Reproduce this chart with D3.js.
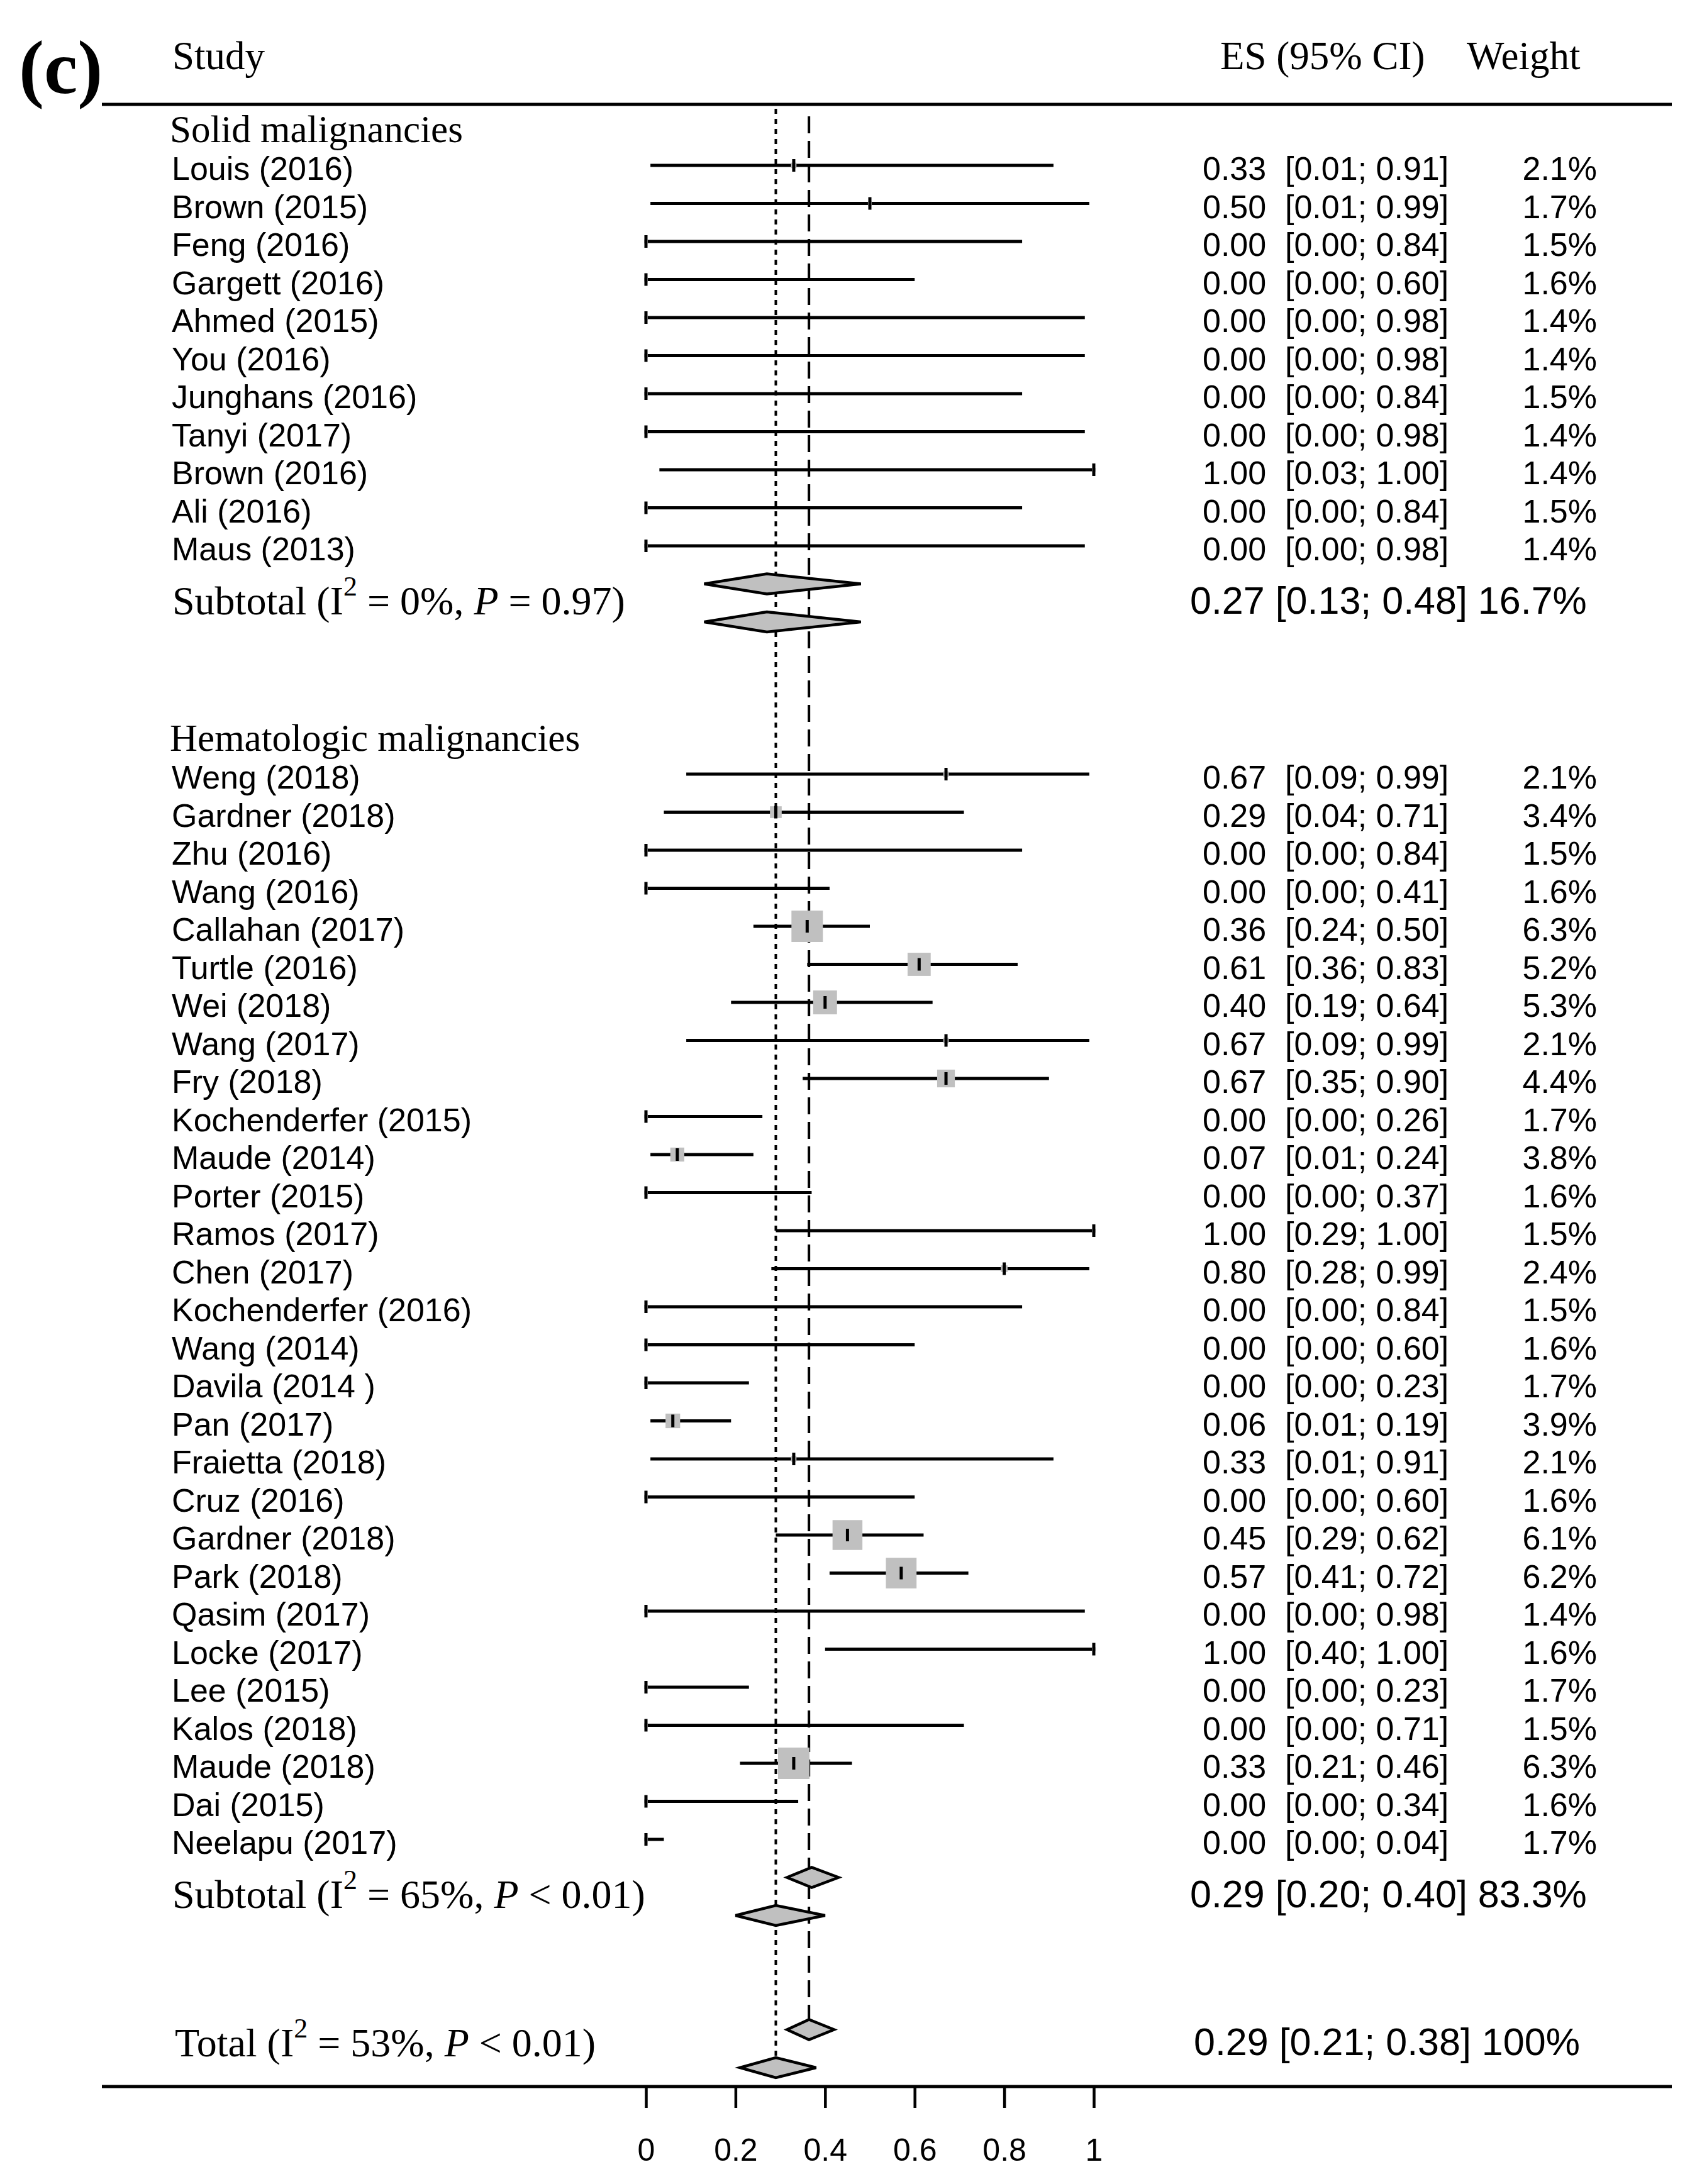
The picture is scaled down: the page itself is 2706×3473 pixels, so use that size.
<!DOCTYPE html>
<html>
<head>
<meta charset="utf-8">
<script src="https://cdn.jsdelivr.net/npm/d3@7"></script>
<style>
  html, body { margin: 0; padding: 0; background: #ffffff; }
  svg { display: block; }
</style>
</head>
<body>
<svg id="chart" width="2706" height="3473"></svg>
<script>
// ---------------- DATA ----------------
const groupNames = ["Solid malignancies", "Hematologic malignancies"];

const solidStudies = ["Louis (2016)", "Brown (2015)", "Feng (2016)", "Gargett (2016)", "Ahmed (2015)",
  "You (2016)", "Junghans (2016)", "Tanyi (2017)", "Brown (2016)", "Ali (2016)", "Maus (2013)"];
const solidES    = [0.33, 0.50, 0.00, 0.00, 0.00, 0.00, 0.00, 0.00, 1.00, 0.00, 0.00];
const solidLower = [0.01, 0.01, 0.00, 0.00, 0.00, 0.00, 0.00, 0.00, 0.03, 0.00, 0.00];
const solidUpper = [0.91, 0.99, 0.84, 0.60, 0.98, 0.98, 0.84, 0.98, 1.00, 0.84, 0.98];
const solidWeight = [2.1, 1.7, 1.5, 1.6, 1.4, 1.4, 1.5, 1.4, 1.4, 1.5, 1.4];

const hemStudies = ["Weng (2018)", "Gardner (2018)", "Zhu (2016)", "Wang (2016)", "Callahan (2017)",
  "Turtle (2016)", "Wei (2018)", "Wang (2017)", "Fry (2018)", "Kochenderfer (2015)", "Maude (2014)",
  "Porter (2015)", "Ramos (2017)", "Chen (2017)", "Kochenderfer (2016)", "Wang (2014)", "Davila (2014 )",
  "Pan (2017)", "Fraietta (2018)", "Cruz (2016)", "Gardner (2018)", "Park (2018)", "Qasim (2017)",
  "Locke (2017)", "Lee (2015)", "Kalos (2018)", "Maude (2018)", "Dai (2015)", "Neelapu (2017)"];
const hemES    = [0.67, 0.29, 0.00, 0.00, 0.36, 0.61, 0.40, 0.67, 0.67, 0.00, 0.07, 0.00, 1.00, 0.80, 0.00,
  0.00, 0.00, 0.06, 0.33, 0.00, 0.45, 0.57, 0.00, 1.00, 0.00, 0.00, 0.33, 0.00, 0.00];
const hemLower = [0.09, 0.04, 0.00, 0.00, 0.24, 0.36, 0.19, 0.09, 0.35, 0.00, 0.01, 0.00, 0.29, 0.28, 0.00,
  0.00, 0.00, 0.01, 0.01, 0.00, 0.29, 0.41, 0.00, 0.40, 0.00, 0.00, 0.21, 0.00, 0.00];
const hemUpper = [0.99, 0.71, 0.84, 0.41, 0.50, 0.83, 0.64, 0.99, 0.90, 0.26, 0.24, 0.37, 1.00, 0.99, 0.84,
  0.60, 0.23, 0.19, 0.91, 0.60, 0.62, 0.72, 0.98, 1.00, 0.23, 0.71, 0.46, 0.34, 0.04];
const hemWeight = [2.1, 3.4, 1.5, 1.6, 6.3, 5.2, 5.3, 2.1, 4.4, 1.7, 3.8, 1.6, 1.5, 2.4, 1.5, 1.6, 1.7,
  3.9, 2.1, 1.6, 6.1, 6.2, 1.4, 1.6, 1.7, 1.5, 6.3, 1.6, 1.7];

// subgroup summaries (random effects, as printed) and the fixed-effect diamonds
const subtotalES     = [0.27, 0.29];
const subtotalLower  = [0.13, 0.20];
const subtotalUpper  = [0.48, 0.40];
const subtotalWeight = ["16.7%", "83.3%"];
const subtotalI2     = ["0%", "65%"];
const subtotalP      = ["= 0.97", "< 0.01"];
const subFixedES     = [0.27, 0.37];
const subFixedLower  = [0.13, 0.315];
const subFixedUpper  = [0.48, 0.43];

const totalES = 0.29, totalLower = 0.21, totalUpper = 0.38, totalWeight = "100%";
const totalI2 = "53%", totalP = "< 0.01";
const totalFixedES = 0.364, totalFixedLower = 0.315, totalFixedUpper = 0.42;

const tickValues = [0, 0.2, 0.4, 0.6, 0.8, 1];
const tickLabels = ["0", "0.2", "0.4", "0.6", "0.8", "1"];

// ---------------- LAYOUT ----------------
const SERIF = "'Liberation Serif', 'Times New Roman', serif";
const SANS = "'Liberation Sans', Arial, sans-serif";
const GRAY = "#c0c0c0";

const svg = d3.select("#chart");
svg.append("rect").attr("width", 2706).attr("height", 3473).attr("fill", "#fff");

const x = d3.scaleLinear().domain([0, 1]).range([1027, 1739]);
const rowY = d3.scaleLinear().domain([0, 1]).range([263, 323.5]);
const sq = d3.scalePow().exponent(1.6).domain([0, 6.3]).range([0, 50]);
const fmt2 = d3.format(".2f");
const fmtW = w => d3.format(".1f")(w) + "%";

// build the row list
const rows = [];
let r = -1;
rows.push({type: "header", label: groupNames[0], r: r}); r++;
solidStudies.forEach((s, i) => rows.push({type: "study", label: s, es: solidES[i], lo: solidLower[i], hi: solidUpper[i], w: solidWeight[i], r: r++}));
const subRows = [];
subRows.push({g: 0, r: r}); r += 2;
r += 2;
rows.push({type: "header", label: groupNames[1], r: r}); r++;
hemStudies.forEach((s, i) => rows.push({type: "study", label: s, es: hemES[i], lo: hemLower[i], hi: hemUpper[i], w: hemWeight[i], r: r++}));
subRows.push({g: 1, r: r}); r += 2;
r += 2;
const totalRow = r;

const LEFT = 162, RIGHT = 2658;
const topLineY = 166, axisY = 3318;

// panel label and column headers
svg.append("text").attr("x", 30).attr("y", 148).attr("font-family", SERIF)
  .attr("font-weight", "bold").attr("font-size", 120).text("(c)");
const hdr = svg.append("g").attr("font-family", SERIF).attr("font-size", 63);
hdr.append("text").attr("x", 274).attr("y", 110).text("Study");
hdr.append("text").attr("x", 1940).attr("y", 110).text("ES (95% CI)");
hdr.append("text").attr("x", 2332).attr("y", 110).text("Weight");

svg.append("line").attr("x1", LEFT).attr("x2", RIGHT).attr("y1", topLineY).attr("y2", topLineY)
  .attr("stroke", "#000").attr("stroke-width", 5);

// reference lines
svg.append("line").attr("x1", x(totalES)).attr("x2", x(totalES))
  .attr("y1", 173).attr("y2", rowY(totalRow + 1) - 16)
  .attr("stroke", "#000").attr("stroke-width", 4).attr("stroke-dasharray", "8,8");
svg.append("line").attr("x1", x(totalFixedES)).attr("x2", x(totalFixedES))
  .attr("y1", 185).attr("y2", rowY(totalRow) - 16)
  .attr("stroke", "#000").attr("stroke-width", 4).attr("stroke-dasharray", "27,12");

// group headers
svg.append("g").selectAll("text").data(rows.filter(d => d.type === "header")).join("text")
  .attr("x", 270).attr("y", d => rowY(d.r) + 23)
  .attr("font-family", SERIF).attr("font-size", 61).text(d => d.label);

const studies = rows.filter(d => d.type === "study");

// study labels and columns
const lab = svg.append("g").attr("font-family", SANS).attr("font-size", 52).attr("fill", "#000");
lab.selectAll("text.name").data(studies).join("text").attr("class", "name")
  .attr("x", 273).attr("y", d => rowY(d.r) + 23).text(d => d.label);
lab.selectAll("text.es").data(studies).join("text").attr("class", "es")
  .attr("x", 1912).attr("y", d => rowY(d.r) + 23).text(d => fmt2(d.es));
lab.selectAll("text.ci").data(studies).join("text").attr("class", "ci")
  .attr("x", 2043).attr("y", d => rowY(d.r) + 23).text(d => "[" + fmt2(d.lo) + "; " + fmt2(d.hi) + "]");
lab.selectAll("text.w").data(studies).join("text").attr("class", "w")
  .attr("x", 2539).attr("text-anchor", "end").attr("y", d => rowY(d.r) + 23).text(d => fmtW(d.w));

// CI lines
const marks = svg.append("g");
marks.selectAll("line.ci").data(studies).join("line").attr("class", "ci")
  .attr("x1", d => x(d.lo)).attr("x2", d => x(d.hi))
  .attr("y1", d => rowY(d.r)).attr("y2", d => rowY(d.r))
  .attr("stroke", "#000").attr("stroke-width", 5);
marks.selectAll("rect").data(studies).join("rect")
  .attr("x", d => x(d.es) - Math.max(sq(d.w), 6) / 2).attr("y", d => rowY(d.r) - Math.max(sq(d.w), 6) / 2)
  .attr("width", d => Math.max(sq(d.w), 6)).attr("height", d => Math.max(sq(d.w), 6)).attr("fill", GRAY);
marks.selectAll("line.tick").data(studies).join("line").attr("class", "tick")
  .attr("x1", d => x(d.es)).attr("x2", d => x(d.es))
  .attr("y1", d => rowY(d.r) - 10).attr("y2", d => rowY(d.r) + 10)
  .attr("stroke", "#000").attr("stroke-width", 5);

// diamonds
function diamond(es, lo, hi, yc) {
  const h = 16;
  return [[x(lo), yc], [x(es), yc - h], [x(hi), yc], [x(es), yc + h]].map(p => p.join(",")).join(" ");
}
const diamonds = [];
subRows.forEach(s => {
  diamonds.push({es: subFixedES[s.g], lo: subFixedLower[s.g], hi: subFixedUpper[s.g], r: s.r});
  diamonds.push({es: subtotalES[s.g], lo: subtotalLower[s.g], hi: subtotalUpper[s.g], r: s.r + 1});
});
diamonds.push({es: totalFixedES, lo: totalFixedLower, hi: totalFixedUpper, r: totalRow});
diamonds.push({es: totalES, lo: totalLower, hi: totalUpper, r: totalRow + 1});
svg.append("g").selectAll("polygon").data(diamonds).join("polygon")
  .attr("points", d => diamond(d.es, d.lo, d.hi, rowY(d.r)))
  .attr("fill", GRAY).attr("stroke", "#000").attr("stroke-width", 4.5);

// summary labels
function summaryLabel(g, xPos, yPos, word, i2, p) {
  const t = g.append("text").attr("x", xPos).attr("y", yPos)
    .attr("font-family", SERIF).attr("font-size", 64);
  t.append("tspan").text(word + " (I");
  t.append("tspan").attr("font-size", 44).attr("dy", -30).text("2");
  t.append("tspan").attr("dy", 30).text(" = " + i2 + ", ");
  t.append("tspan").attr("font-style", "italic").text("P");
  t.append("tspan").text(" " + p + ")");
}
const sumG = svg.append("g");
subRows.forEach(s => {
  const mid = (rowY(s.r) + rowY(s.r + 1)) / 2;
  summaryLabel(sumG, 274, mid + 18, "Subtotal", subtotalI2[s.g], subtotalP[s.g]);
  sumG.append("text").attr("x", 1892).attr("y", mid + 17).attr("font-family", SANS).attr("font-size", 61)
    .text(fmt2(subtotalES[s.g]) + " [" + fmt2(subtotalLower[s.g]) + "; " + fmt2(subtotalUpper[s.g]) + "] " + subtotalWeight[s.g]);
});
{
  const mid = (rowY(totalRow) + rowY(totalRow + 1)) / 2;
  summaryLabel(sumG, 278, mid + 12, "Total", totalI2, totalP);
  sumG.append("text").attr("x", 1898).attr("y", mid + 10).attr("font-family", SANS).attr("font-size", 61)
    .text(fmt2(totalES) + " [" + fmt2(totalLower) + "; " + fmt2(totalUpper) + "] " + totalWeight);
}

// bottom axis
svg.append("line").attr("x1", LEFT).attr("x2", RIGHT).attr("y1", axisY).attr("y2", axisY)
  .attr("stroke", "#000").attr("stroke-width", 5);
const axis = d3.axisBottom(x).tickValues(tickValues).tickFormat((d, i) => tickLabels[i])
  .tickSize(34).tickPadding(48);
const axG = svg.append("g").attr("transform", `translate(0,${axisY})`).call(axis);
axG.select(".domain").remove();
axG.selectAll(".tick line").attr("stroke", "#000").attr("stroke-width", 4.5);
axG.selectAll(".tick text").attr("font-family", SANS).attr("font-size", 50).attr("fill", "#000");
</script>
</body>
</html>
